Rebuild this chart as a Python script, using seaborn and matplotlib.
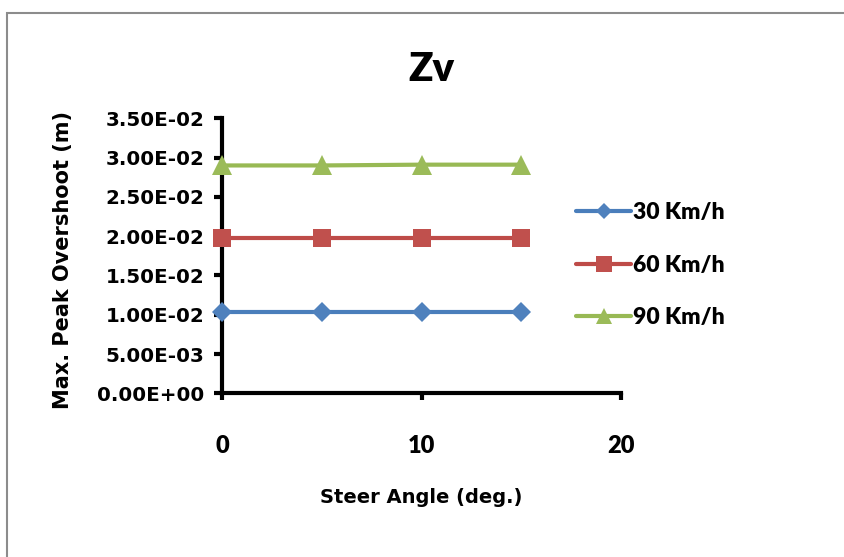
import matplotlib
matplotlib.use("Agg")
import matplotlib.pyplot as plt
import matplotlib.patches as mpatches
from matplotlib.lines import Line2D
from matplotlib.ticker import FuncFormatter
import seaborn as sns
import pandas as pd

# Data
steer_angle = [0, 5, 10, 15]
series_names = ["30 Km/h", "60 Km/h", "90 Km/h"]
overshoot_30 = [0.0104, 0.0104, 0.0104, 0.0104]
overshoot_60 = [0.0198, 0.0198, 0.0198, 0.0198]
overshoot_90 = [0.0290, 0.0290, 0.0291, 0.0291]
y_ticks = [0.0, 0.005, 0.010, 0.015, 0.020, 0.025, 0.030, 0.035]
x_ticks = [0, 10, 20]

line_colors = ["#4A7EBB", "#BE4B48", "#98B954"]
marker_colors = ["#4F81BD", "#C0504D", "#9BBB59"]
markers = ["D", "s", "^"]
marker_sizes = [10, 13, 14]

rows = []
for name, vals in zip(series_names, [overshoot_30, overshoot_60, overshoot_90]):
    for x, v in zip(steer_angle, vals):
        rows.append({"Steer Angle": x, "Overshoot": v, "Speed": name})
df = pd.DataFrame(rows)

sns.set_style("white")
plt.rcParams["font.family"] = ["DejaVu Sans"]
plt.rcParams["font.weight"] = "bold"
plt.rcParams["text.color"] = "black"
plt.rcParams["xtick.color"] = "black"
plt.rcParams["ytick.color"] = "black"
WIDE = ["DejaVu Sans"]
NARROW = ["Lato", "DejaVu Sans"]

fig = plt.figure(figsize=(8.45, 5.57), dpi=100)
ax = fig.add_axes([0.2631, 0.2939, 0.4715, 0.4937])

for name, lc, mc, mk, ms in zip(series_names, line_colors, marker_colors, markers, marker_sizes):
    sub = df[df["Speed"] == name]
    sns.lineplot(data=sub, x="Steer Angle", y="Overshoot", ax=ax, color=lc,
                 linewidth=3.0, marker=mk, markersize=ms, markerfacecolor=mc,
                 markeredgecolor=mc, markeredgewidth=0, legend=False,
                 errorbar=None, clip_on=False, zorder=3)

ax.set_xlim(0, 20)
ax.set_ylim(0, 0.035)
ax.set_xticks(x_ticks)
ax.set_yticks(y_ticks)
ax.yaxis.set_major_formatter(FuncFormatter(lambda v, p: "%.2E" % v))
ax.set_xlabel("")
ax.set_ylabel("")

for side in ["top", "right"]:
    ax.spines[side].set_visible(False)
for side in ["left", "bottom"]:
    ax.spines[side].set_color("black")
    ax.spines[side].set_linewidth(3)

ax.tick_params(axis="y", direction="out", length=6, width=3, color="black",
               labelcolor="black", left=True, pad=7)
ax.tick_params(axis="x", direction="out", length=5, width=3, color="black",
               labelcolor="black", bottom=True, pad=25)
for lab in ax.get_yticklabels():
    lab.set_fontfamily(WIDE)
    lab.set_fontsize(14.3)
    lab.set_fontweight("bold")
for lab in ax.get_xticklabels():
    lab.set_fontfamily(NARROW)
    lab.set_fontsize(17)
    lab.set_fontweight("heavy")

fig.text(0.511, 0.875, "Zv", ha="center", va="center", fontsize=29,
         fontweight="heavy", family=NARROW, color="black")
fig.text(0.498, 0.107, "Steer Angle (deg.)", ha="center", va="center",
         fontsize=14, fontweight="bold", family=WIDE, color="black")
fig.text(0.075, 0.533, "Max. Peak Overshoot (m)", ha="center", va="center",
         rotation=90, fontsize=15, fontweight="bold", family=WIDE, color="black")

handles = [Line2D([0], [0], color=lc, linewidth=3.0, marker=mk, markersize=ms * 0.85,
                  markerfacecolor=mc, markeredgecolor=mc, markeredgewidth=0)
           for lc, mc, mk, ms in zip(line_colors, marker_colors, markers, marker_sizes)]
leg = fig.legend(handles, series_names, loc="center left",
                 bbox_to_anchor=(565 / 845, 0.524), frameon=False, borderpad=0,
                 prop={"family": NARROW, "weight": "heavy", "size": 16.5},
                 handlelength=2.4, handletextpad=0.05, labelspacing=1.36)
for t in leg.get_texts():
    t.set_color("black")

# Outer chart border
border = mpatches.Rectangle((7 / 845, -0.1), 1.2, 1 - 13 / 557 + 0.1,
                            transform=fig.transFigure, fill=False,
                            edgecolor="#8C8C8C", linewidth=1.5)
fig.patches.append(border)

fig.savefig("out.png", dpi=100)
